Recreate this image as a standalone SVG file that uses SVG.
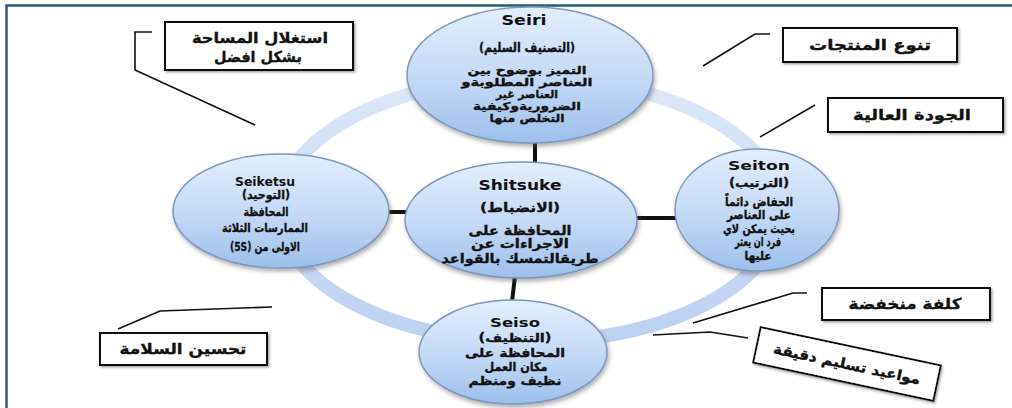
<svg xmlns="http://www.w3.org/2000/svg" width="1012" height="408" viewBox="0 0 1012 408">
  <defs>
    <linearGradient id="nodeFill" x1="0" y1="0" x2="0" y2="1">
      <stop offset="0" stop-color="#e3eefc"/>
      <stop offset="0.55" stop-color="#c3d8f5"/>
      <stop offset="1" stop-color="#9dbfeb"/>
    </linearGradient>
    <linearGradient id="ringFill" x1="0" y1="0" x2="0" y2="1">
      <stop offset="0" stop-color="#dde8f8"/>
      <stop offset="1" stop-color="#bcd0f0"/>
    </linearGradient>
    <filter id="shadow" x="-20%" y="-20%" width="140%" height="150%">
      <feDropShadow dx="1.5" dy="3" stdDeviation="2" flood-color="#555" flood-opacity="0.45"/>
    </filter>
    <filter id="boxShadow" x="-10%" y="-20%" width="120%" height="150%">
      <feDropShadow dx="1.5" dy="1.5" stdDeviation="1" flood-color="#444" flood-opacity="0.5"/>
    </filter>
  </defs>
  <style>
    .frame { stroke: #2b5c7a; stroke-width: 2.5; fill: none; }
    .ring { fill: none; stroke: url(#ringFill); stroke-width: 14; }
    .node { fill: url(#nodeFill); stroke: #7e98bb; stroke-width: 1.5; filter: url(#shadow); }
    .link { stroke: #111; stroke-width: 4; fill: none; }
    .leader { stroke: #111; stroke-width: 1.6; fill: none; }
    .box { fill: #fff; stroke: #111; stroke-width: 2; filter: url(#boxShadow); }
    .ttl { font-family: "DejaVu Sans", Verdana, sans-serif; font-weight: bold; fill: #111; text-anchor: middle; }
    .ar { font-family: "DejaVu Sans", "Liberation Sans", sans-serif; font-weight: bold; fill: #111; stroke: #111; stroke-width: 0.35; text-anchor: middle; direction: rtl; }
  </style>

  <!-- page frame -->
  <path class="frame" d="M6.5 408 V5.5 H1012"/>

  <!-- circular flow ring behind the nodes -->
  <ellipse class="ring" cx="530" cy="210" rx="250" ry="132"/>

  <g id="connectors">
    <line class="link" x1="535" y1="140" x2="535" y2="164"/>
    <line class="link" x1="515" y1="276" x2="512" y2="302"/>
    <line class="link" x1="388" y1="212" x2="408" y2="212"/>
    <line class="link" x1="634" y1="218" x2="677" y2="218"/>
    <polyline class="leader" points="152,32 135,32 135,70 255,125"/>
    <polyline class="leader" points="770,34 755,34 703,66"/>
    <line class="leader" x1="815" y1="105" x2="760" y2="137"/>
    <polyline class="leader" points="118,329 160,311 272,307"/>
    <polyline class="leader" points="807,293 793,293 693,323"/>
    <polyline class="leader" points="748,338 710,332 653,335"/>
  </g>

  <g id="seiri">
    <ellipse class="node" cx="530" cy="75" rx="123" ry="68"/>
    <text class="ttl" x="524" y="25" font-size="14" textLength="45" lengthAdjust="spacingAndGlyphs">Seiri</text>
    <text class="ar" x="527" y="52" font-size="13" textLength="96" lengthAdjust="spacingAndGlyphs">(التصنيف السليم)</text>
    <text class="ar" x="527" y="74" font-size="11" textLength="119" lengthAdjust="spacingAndGlyphs">التميز بوضوح بين</text>
    <text class="ar" x="527" y="86" font-size="11" textLength="131" lengthAdjust="spacingAndGlyphs">العناصر المطلوبةو</text>
    <text class="ar" x="527" y="98" font-size="11" textLength="62" lengthAdjust="spacingAndGlyphs">العناصر غير</text>
    <text class="ar" x="527" y="110" font-size="11" textLength="108" lengthAdjust="spacingAndGlyphs">الضروريةوكيفية</text>
    <text class="ar" x="527" y="122" font-size="11" textLength="75" lengthAdjust="spacingAndGlyphs">التخلص منها</text>
  </g>

  <g id="seiketsu">
    <ellipse class="node" cx="281" cy="211" rx="108" ry="57"/>
    <text class="ttl" x="265" y="186" font-size="12" textLength="60" lengthAdjust="spacingAndGlyphs">Seiketsu</text>
    <text class="ar" x="266" y="199" font-size="12" textLength="48" lengthAdjust="spacingAndGlyphs">(التوحيد)</text>
    <text class="ar" x="266" y="216" font-size="12" textLength="45" lengthAdjust="spacingAndGlyphs">المحافظة</text>
    <text class="ar" x="265" y="232" font-size="12" textLength="86" lengthAdjust="spacingAndGlyphs">الممارسات الثلاثة</text>
    <text class="ar" x="265" y="251" font-size="12" textLength="70" lengthAdjust="spacingAndGlyphs">الاولى من (5S)</text>
  </g>

  <g id="shitsuke">
    <ellipse class="node" cx="521" cy="220" rx="116" ry="58"/>
    <text class="ttl" x="520" y="190" font-size="14" textLength="83" lengthAdjust="spacingAndGlyphs">Shitsuke</text>
    <text class="ar" x="520" y="212" font-size="13" textLength="80" lengthAdjust="spacingAndGlyphs">(الانضباط)</text>
    <text class="ar" x="520" y="235" font-size="13" textLength="103" lengthAdjust="spacingAndGlyphs">المحافظة على</text>
    <text class="ar" x="520" y="248" font-size="13" textLength="98" lengthAdjust="spacingAndGlyphs">الاجراءات عن</text>
    <text class="ar" x="520" y="263" font-size="13" textLength="157" lengthAdjust="spacingAndGlyphs">طريقالتمسك بالقواعد</text>
  </g>

  <g id="seiton">
    <ellipse class="node" cx="757" cy="210" rx="82" ry="61"/>
    <text class="ttl" x="759" y="170" font-size="13" textLength="62" lengthAdjust="spacingAndGlyphs">Seiton</text>
    <text class="ar" x="759" y="187" font-size="12" textLength="60" lengthAdjust="spacingAndGlyphs">(الترتيب)</text>
    <text class="ar" x="759" y="206" font-size="12" textLength="68" lengthAdjust="spacingAndGlyphs">الحفاض دائماً</text>
    <text class="ar" x="759" y="219" font-size="12" textLength="64" lengthAdjust="spacingAndGlyphs">على العناصر</text>
    <text class="ar" x="759" y="233" font-size="12" textLength="72" lengthAdjust="spacingAndGlyphs">بحيث يمكن لاي</text>
    <text class="ar" x="758" y="246" font-size="12" textLength="46" lengthAdjust="spacingAndGlyphs">فرد ان يعثر</text>
    <text class="ar" x="758" y="260" font-size="12" textLength="27" lengthAdjust="spacingAndGlyphs">عليها</text>
  </g>

  <g id="seiso">
    <ellipse class="node" cx="513" cy="352" rx="94" ry="52"/>
    <text class="ttl" x="515" y="327" font-size="13" textLength="50" lengthAdjust="spacingAndGlyphs">Seiso</text>
    <text class="ar" x="515" y="342" font-size="12" textLength="73" lengthAdjust="spacingAndGlyphs">(التنظيف)</text>
    <text class="ar" x="515" y="357" font-size="12" textLength="100" lengthAdjust="spacingAndGlyphs">المحافظة على</text>
    <text class="ar" x="516" y="371" font-size="12" textLength="63" lengthAdjust="spacingAndGlyphs">مكان العمل</text>
    <text class="ar" x="515" y="385" font-size="12" textLength="93" lengthAdjust="spacingAndGlyphs">نظيف ومنظم</text>
  </g>

  <g id="space">
    <rect class="box" x="165" y="22" width="188" height="48"/>
    <text class="ar" x="260" y="43" font-size="15" textLength="136" lengthAdjust="spacingAndGlyphs">استغلال المساحة</text>
    <text class="ar" x="258" y="62" font-size="15" textLength="88" lengthAdjust="spacingAndGlyphs">بشكل افضل</text>
  </g>

  <g id="variety">
    <rect class="box" x="783" y="28" width="174" height="34"/>
    <text class="ar" x="870" y="50" font-size="15" textLength="122" lengthAdjust="spacingAndGlyphs">تنوع المنتجات</text>
  </g>

  <g id="quality">
    <rect class="box" x="828" y="98" width="175" height="34"/>
    <text class="ar" x="912" y="120" font-size="15" textLength="118" lengthAdjust="spacingAndGlyphs">الجودة العالية</text>
  </g>

  <g id="safety">
    <rect class="box" x="100" y="333" width="167" height="32"/>
    <text class="ar" x="183" y="354" font-size="15" textLength="127" lengthAdjust="spacingAndGlyphs">تحسين السلامة</text>
  </g>

  <g id="cost">
    <rect class="box" x="822" y="288" width="168" height="32"/>
    <text class="ar" x="905" y="309" font-size="15" textLength="113" lengthAdjust="spacingAndGlyphs">كلفة منخفضة</text>
  </g>

  <g id="delivery" transform="translate(847 364) rotate(12)">
    <rect class="box" x="-92" y="-18" width="184" height="36"/>
    <text class="ar" x="0" y="5" font-size="14" textLength="150" lengthAdjust="spacingAndGlyphs">مواعيد تسليم دقيقة</text>
  </g>
</svg>
